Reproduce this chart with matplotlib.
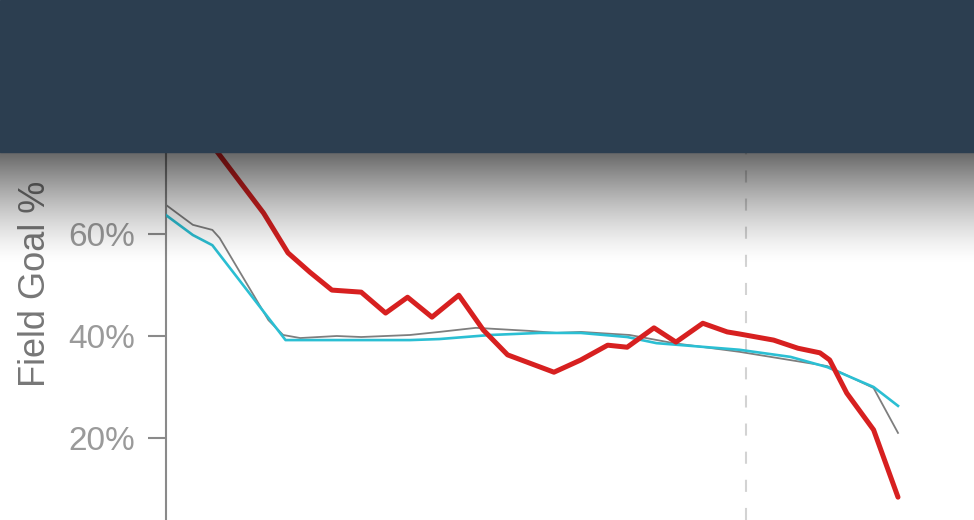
import numpy as np
import matplotlib
matplotlib.use('Agg')
import matplotlib.pyplot as plt
from matplotlib.patches import Rectangle

plt.rcParams['font.family'] = ['Liberation Sans', 'DejaVu Sans']

# distance (ft) vs field goal %
gray_x = [0.0, 1.1, 1.9, 2.2, 4.2, 4.8, 5.5, 7.0, 8.0, 10.0, 11.2, 12.7, 14.9, 16.0, 17.0, 19.0, 20.8, 23.5, 27.1, 29.0, 30.0]
gray_y = [65.7, 61.8, 60.8, 59.2, 43.1, 40.2, 39.6, 40.0, 39.8, 40.2, 40.8, 41.6, 41.0, 40.6, 40.8, 40.2, 38.6, 36.9, 34.1, 29.8, 21.0]

cyan_x = [0.0, 1.1, 1.9, 4.9, 6.6, 10.0, 11.2, 13.3, 15.3, 17.0, 18.9, 20.1, 23.5, 25.6, 27.1, 29.0, 30.0]
cyan_y = [63.7, 59.8, 57.8, 39.2, 39.2, 39.2, 39.4, 40.2, 40.6, 40.6, 39.8, 38.6, 37.3, 35.9, 33.9, 30.0, 26.3]

red_x = [1.0, 2.1, 4.0, 5.0, 5.9, 6.8, 8.0, 9.0, 9.9, 10.9, 12.0, 13.0, 14.0, 15.9, 17.0, 18.1, 18.9, 20.0, 20.9, 22.0, 23.0, 23.5, 24.9, 25.9, 26.8, 27.2, 27.9, 29.0, 30.0]
red_y = [84.0, 76.1, 64.1, 56.3, 52.5, 49.0, 48.6, 44.5, 47.6, 43.7, 48.0, 41.2, 36.3, 32.9, 35.3, 38.2, 37.8, 41.6, 38.8, 42.5, 40.8, 40.4, 39.2, 37.6, 36.7, 35.3, 28.8, 21.6, 8.4]

three_pt = 23.75
yticks = [20, 40, 60]
ytick_labels = ['20%', '40%', '60%']

W, H = 974, 520
fig = plt.figure(figsize=(W / 100, H / 100), dpi=100)
left = 166 / W
ax = fig.add_axes([left, 0, 1 - left, 1])
ax.set_xlim(0, (W - 166) / 24.4)
ax.set_ylim((540 - 520) / 5.1, 540 / 5.1)

ax.axvline(three_pt, color='#d3d3d3', lw=1.5, dashes=(5.8, 7.7), zorder=1)
ax.plot(gray_x, gray_y, color='#7e7e7e', lw=1.3, solid_joinstyle='round', zorder=2)
ax.plot(cyan_x, cyan_y, color='#2bbfd3', lw=1.9, solid_joinstyle='round', zorder=3)
ax.plot(red_x, red_y, color='#d72020', lw=3.6, solid_joinstyle='round',
        solid_capstyle='round', zorder=4)

for s in ['top', 'right', 'bottom']:
    ax.spines[s].set_visible(False)
ax.spines['left'].set_color('#8a8a8a')
ax.spines['left'].set_linewidth(1.5)
ax.set_xticks([])
ax.set_yticks(yticks)
ax.set_yticklabels(ytick_labels)
ax.tick_params(axis='y', length=13, width=1.5, color='#8a8a8a', pad=9,
               labelsize=24, labelcolor='#9a9a9a')

fig.text(36 / W, 1 - 284 / H, 'Field Goal %', rotation=90, ha='center', va='center',
         fontsize=26, color='#777777')

# shadow under the header
gax = fig.add_axes([0, 1 - 265 / H, 1, 113 / H], zorder=10)
t = np.linspace(0, 1, 200)[:, None]
grad = np.zeros((200, 2, 4))
grad[:, :, 3] = 0.6 * (1 - t) ** 1.4
gax.imshow(grad, aspect='auto', extent=[0, 1, 0, 1], origin='upper')
gax.set_axis_off()

fig.patches.append(Rectangle((0, 1 - 152 / H), 1, 152 / H, transform=fig.transFigure,
                             color='#2c3e50', zorder=20))

fig.savefig('out.png', dpi=100)
